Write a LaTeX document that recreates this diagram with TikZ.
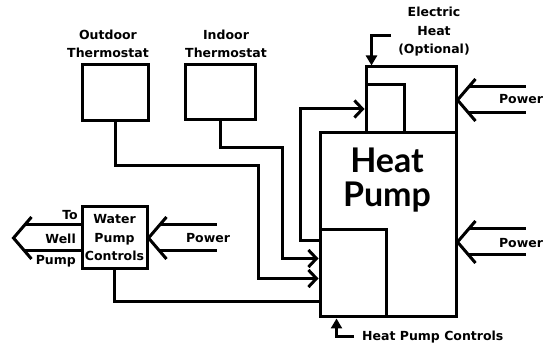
\documentclass[tikz,border=0pt]{standalone}
\usepackage{fontspec}
\setmainfont{Lato}
\newfontfamily\lblfont{DejaVu Sans}
\usetikzlibrary{arrows.meta, positioning, calc}
\tikzset{
	unit/.style ={rectangle, draw=black, line width=3pt, inner sep=0pt},
	lbl/.style  ={font=\lblfont\bfseries\fontsize{12.5}{18.5}\selectfont, align=center, inner sep=0pt},
	wire/.style ={line width=3pt},
	sig/.style  ={wire, -{Straight Barb[length=8pt, width=17pt]}},
	fsig/.style ={wire, -{Triangle[length=10pt, width=11pt]}},
	% hollow supply arrow, tip at the origin
	powerarrow/.pic={
		\draw[wire, line join=miter] (18,-21) -- (0,0) -- (18,21);
		\draw[wire] (11,-13) -- (68,-13);
		\draw[wire] (11,13) -- (68,13);
	},
}
\begin{document}
\begin{tikzpicture}[x=1pt, y=-1pt]
	\useasboundingbox (0,0) rectangle (552,347);
	% thermostats
	\node[unit, minimum width=66pt, minimum height=56pt] (outT) at (115,93) {};
	\node[lbl] (outTlbl) at (108,44) {Outdoor\\Thermostat};
	\node[unit, minimum width=70pt, minimum height=55pt] (inT) at (220,92.5) {};
	\node[lbl] (inTlbl) at (226,44) {Indoor\\Thermostat};
	% water pump
	\node[unit, minimum width=65pt, minimum height=62pt, lbl, draw] (wpc) at (114.5,238) {Water\\Pump\\Controls};
	\pic at ([xshift=-67pt]wpc.west) {powerarrow};
	\node[lbl, anchor=east] (tolbl) at (78,215) {To};
	\node[lbl, anchor=east] (welllbl) at (76,239) {Well};
	\node[lbl, anchor=east] (pumplbl) at (76,261) {Pump};
	\pic at (wpc.east) {powerarrow};
	\node[lbl] (wpcpow) at (208,238) {Power};
	% heat pump with electric heat and controls
	\node[unit, minimum width=136pt, minimum height=184pt] (hp) at (388,225) {};
	\node[font=\bfseries\fontsize{34}{34}\selectfont, align=center] (hpname) at (387,180) {Heat\\Pump};
	\node[unit, minimum width=90pt, minimum height=66pt] (ehOut) at (411,100) {};
	\node[unit, minimum width=38pt, minimum height=48pt] (ehIn) at (385,109) {};
	\node[unit, minimum width=66pt, minimum height=87pt] (hpc) at (353,273.5) {};
	\node[lbl] (ehlbl) at (434,32) {Electric\\Heat\\(Optional)};
	\coordinate (ehpt) at (391,36);
	\draw[fsig] (ehpt) -| ([xshift=7pt]ehOut.north west);
	\pic at (ehOut.east) {powerarrow};
	\node[lbl] (ehpow) at (521,99) {Power};
	\pic at ([yshift=-17pt]hp.east) {powerarrow};
	\node[lbl] (hppow) at (521,243) {Power};
	\coordinate (hpcpt) at (354,337);
	\draw[fsig] (hpcpt) -| ([xshift=18pt]hpc.south west);
	\node[lbl, anchor=west] (hpclbl) at (362,337) {Heat Pump Controls};
	% wiring
	\draw[sig] (inT.south) |- ++(62,26) |- ([yshift=-30pt]hpc.north west);
	\draw[sig] (outT.south) |- ++(143,43) |- ([yshift=-50pt]hpc.north west);
	\draw[wire] (wpc.south) |- ([yshift=-73pt]hpc.north west);
	\draw[sig] ([yshift=-12pt]hpc.north west) -| ([xshift=-64pt]ehIn.west) -- (ehIn.west);
\end{tikzpicture}
\end{document}
